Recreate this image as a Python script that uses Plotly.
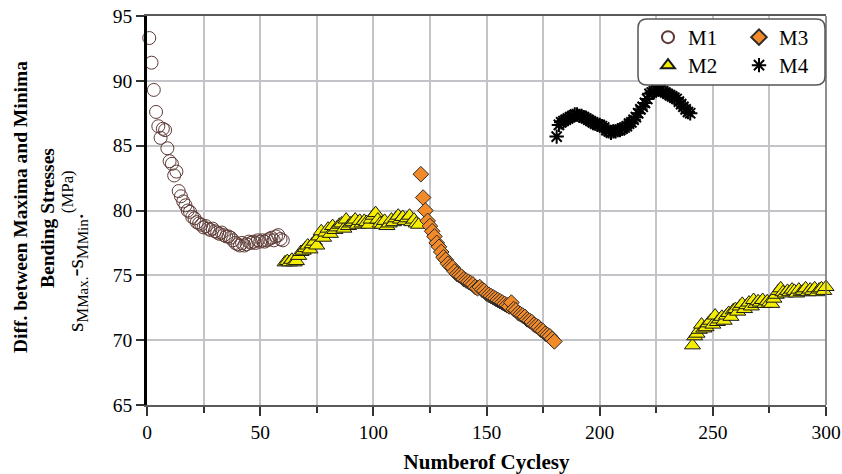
import plotly.graph_objects as go

# ---------------- data ----------------
m1_x = list(range(1, 61))
m1_y = [93.3, 91.4, 89.3, 87.6, 86.5, 85.6, 86.3, 86.2, 84.8, 83.8,
        83.6, 82.7, 83.0, 81.5, 81.1, 80.7, 80.4, 80.0, 79.9, 79.5,
        79.4, 79.1, 79.0, 78.9, 78.7, 78.8, 78.6, 78.5, 78.6, 78.4,
        78.3, 78.2, 78.3, 78.1, 78.0, 78.0, 77.9, 77.7, 77.5, 77.4,
        77.3, 77.5, 77.3, 77.4, 77.6, 77.5, 77.6, 77.5, 77.7, 77.6,
        77.7, 77.6, 77.7, 77.8, 77.9, 77.7, 78.0, 78.1, 77.8, 77.7]

m2_x = list(range(61, 121)) + list(range(241, 301))
m2_y = [76.0, 76.1, 76.0, 76.2, 76.0, 76.1, 76.5, 76.8, 76.9, 77.1,
        77.3, 77.0, 77.4, 77.6, 77.3, 78.0, 78.4, 77.9, 78.3, 78.6,
        78.2, 78.8, 78.5, 78.7, 78.9, 79.0, 78.6, 79.3, 78.8, 79.0,
        79.1, 79.3, 78.9, 79.2, 79.0, 79.2, 79.1, 78.9, 79.3, 79.6,
        79.8, 79.3, 79.0, 78.9, 79.2, 78.8, 79.0, 79.3, 79.1, 79.4,
        79.6, 79.3, 79.5, 79.2, 79.4, 79.6, 79.1, 79.3, 79.0, 78.9,
        69.6, 70.3, 70.5, 70.8, 71.2, 70.9, 71.0, 71.3, 71.5, 71.2,
        71.9, 71.4, 71.6, 71.8, 71.5, 71.9, 72.1, 71.8, 72.3, 72.4,
        72.2, 72.6, 72.8, 72.4, 72.7, 72.9, 72.6, 73.1, 72.8, 73.0,
        72.9, 73.1, 72.8, 73.0, 72.9, 72.8, 73.2, 73.5, 73.8, 74.0,
        73.7, 73.6, 73.8, 73.7, 73.9, 73.8, 73.6, 73.9, 73.7, 73.8,
        74.0, 73.7, 73.9, 73.8, 74.0, 73.7, 73.9, 74.0, 73.8, 74.1]

m3_x = list(range(121, 181))
m3_y = [82.8, 81.0, 80.0, 79.2, 78.8, 78.4, 78.0, 77.5, 77.2, 76.8,
        76.4, 76.2, 75.9, 75.7, 75.6, 75.3, 75.1, 75.0, 74.9, 74.7,
        74.6, 74.5, 74.4, 74.3, 74.1, 74.0, 74.1, 73.9, 73.8, 73.6,
        73.5, 73.4, 73.3, 73.2, 73.1, 73.0, 72.9, 72.8, 72.7, 72.6,
        72.9, 72.4, 72.3, 72.1, 72.0, 71.9, 71.8, 71.6, 71.5, 71.4,
        71.2, 71.1, 71.0, 70.8, 70.7, 70.5, 70.4, 70.3, 70.1, 69.9]

m4_x = list(range(181, 241))
m4_y = [85.7, 86.6, 86.8, 86.9, 87.0, 87.1, 87.2, 87.3, 87.4, 87.4,
        87.3, 87.3, 87.2, 87.1, 87.0, 86.9, 86.8, 86.7, 86.6, 86.6,
        86.5, 86.4, 86.2, 86.1, 86.0, 86.1, 86.1, 86.2, 86.2, 86.3,
        86.4, 86.5, 86.7, 86.8, 87.0, 87.2, 87.5, 87.8, 88.0, 88.3,
        88.6, 89.0, 89.1, 89.2, 89.3, 89.3, 89.3, 89.2, 89.1, 89.0,
        88.9, 88.8, 88.7, 88.6, 88.4, 88.2, 88.0, 87.8, 87.6, 87.5]

x_ticks = [0, 50, 100, 150, 200, 250, 300]
y_ticks = [65, 70, 75, 80, 85, 90, 95]

# ---------------- layout geometry (pixels) ----------------
W, H = 842, 474
L, R, T, B = 147, 826, 16, 405
PW, PH = R - L, B - T


def px(x):
    return (x - L) / PW


def py(y):
    return (B - y) / PH


FONT = "Liberation Serif"

fig = go.Figure()
fig.add_trace(go.Scatter(
    x=m1_x, y=m1_y, mode="markers", name="M1", legend="legend",
    marker=dict(symbol="circle", size=13, color="rgba(0,0,0,0)",
                line=dict(color="#5e3a36", width=1)),
    cliponaxis=False))
fig.add_trace(go.Scatter(
    x=m2_x, y=m2_y, mode="markers", name="M2", legend="legend3",
    marker=dict(symbol="triangle-up", size=14, color="#f5ee00",
                line=dict(color="#1a1a1a", width=1)),
    cliponaxis=False))
fig.add_trace(go.Scatter(
    x=m3_x, y=m3_y, mode="markers", name="M3", legend="legend2",
    marker=dict(symbol="diamond", size=12, color="#f28a2a",
                line=dict(color="#2a2a2a", width=1)),
    cliponaxis=False))
fig.add_trace(go.Scatter(
    x=m4_x, y=m4_y, mode="markers", name="M4", legend="legend4",
    marker=dict(symbol="asterisk-open", size=12, color="black",
                line=dict(color="black", width=2)),
    cliponaxis=False))

# rounded legend box
x0, x1, y0, y1, r = 638, 825, 19, 85, 9
path = (f"M {px(x0 + r)},{py(y0)} L {px(x1 - r)},{py(y0)} "
        f"Q {px(x1)},{py(y0)} {px(x1)},{py(y0 + r)} "
        f"L {px(x1)},{py(y1 - r)} Q {px(x1)},{py(y1)} {px(x1 - r)},{py(y1)} "
        f"L {px(x0 + r)},{py(y1)} Q {px(x0)},{py(y1)} {px(x0)},{py(y1 - r)} "
        f"L {px(x0)},{py(y0 + r)} Q {px(x0)},{py(y0)} {px(x0 + r)},{py(y0)} Z")

shapes = [
    dict(type="line", xref="paper", yref="paper", x0=1, x1=1, y0=0, y1=1,
         line=dict(color="#6a6a6a", width=1.5), layer="above"),
    dict(type="path", xref="paper", yref="paper", path=path,
         fillcolor="white", line=dict(color="#555555", width=1.5), layer="above"),
]

leg_common = dict(orientation="v", bgcolor="rgba(0,0,0,0)", borderwidth=0,
                  font=dict(family=FONT, size=21, color="black"),
                  yanchor="top", xanchor="left", tracegroupgap=0,
                  itemsizing="constant")

sub_line = ("s<sub>M<span style='font-size:15px'>Max.</span></sub>"
            "-s<sub>M<span style='font-size:15px'>Min</span></sub>."
            "<sup>(MPa)</sup>")

annotations = [
    dict(text="<b>Diff. between Maxima and Minima</b>", xref="paper", yref="paper",
         x=px(20), y=py(207), textangle=-90, showarrow=False,
         xanchor="center", yanchor="middle",
         font=dict(family=FONT, size=19.5, color="black")),
    dict(text="<b>Bending Stresses</b>", xref="paper", yref="paper",
         x=px(47), y=py(218), textangle=-90, showarrow=False,
         xanchor="center", yanchor="middle",
         font=dict(family=FONT, size=19.5, color="black")),
    dict(text=sub_line,
         xref="paper", yref="paper",
         x=px(75), y=py(251), textangle=-90, showarrow=False,
         xanchor="center", yanchor="middle",
         font=dict(family=FONT, size=24, color="black")),
]

fig.update_layout(
    width=W, height=H,
    margin=dict(l=L, r=W - R, t=T, b=H - B, autoexpand=False),
    paper_bgcolor="white", plot_bgcolor="white",
    font=dict(family=FONT, color="black"),
    showlegend=True,
    legend=dict(**leg_common, x=px(648), y=py(17)),
    legend2=dict(**leg_common, x=px(739), y=py(17)),
    legend3=dict(**leg_common, x=px(648), y=py(45)),
    legend4=dict(**leg_common, x=px(739), y=py(45)),
    shapes=shapes,
    annotations=annotations,
    xaxis=dict(
        range=[0, 300], tickvals=x_ticks, ticktext=[str(v) for v in x_ticks],
        ticks="outside", ticklen=9, tickwidth=1.5, tickcolor="#333333",
        showgrid=True, gridcolor="#c4c4c8", gridwidth=1.5,
        minor=dict(dtick=25, tick0=0, ticks="outside", ticklen=6, tickwidth=1.5,
                   tickcolor="#333333", showgrid=True, gridcolor="#c4c4c8",
                   gridwidth=1.5),
        showline=True, linecolor="#5a5a5a", linewidth=1.5, mirror=True,
        zeroline=False,
        tickfont=dict(family=FONT, size=19.5, color="black"),
        title=dict(text="<b>Numberof Cyclesy</b>", standoff=12,
                   font=dict(family=FONT, size=21, color="black")),
    ),
    yaxis=dict(
        range=[65, 95], tickvals=y_ticks, ticktext=[str(v) for v in y_ticks],
        ticks="outside", ticklen=8, tickwidth=1.5, tickcolor="#333333",
        showgrid=True, gridcolor="#c4c4c8", gridwidth=1.5,
        showline=True, linecolor="black", linewidth=2.5, mirror=False,
        zeroline=False,
        tickfont=dict(family=FONT, size=19.5, color="black"),
    ),
)

fig.write_html("out.html")
